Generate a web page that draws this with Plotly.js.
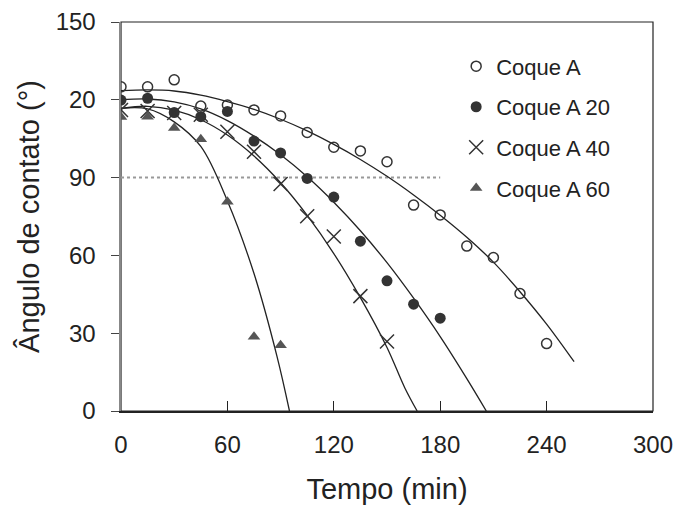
<!DOCTYPE html>
<html>
<head>
<meta charset="utf-8">
<script src="https://cdn.plot.ly/plotly-3.0.1.min.js"></script>
<style>html,body{margin:0;padding:0;background:#fff;}#chart{width:675px;height:508px;}</style>
</head>
<body>
<div id="chart"></div>
<script>
// ---- data ----
const tA   = [0,15,30,45,60,75,90,105,120,135,150,165,180,195,210,225,240];
const coqueA   = [125,125,127.7,117.6,118,116.1,113.8,107.4,101.7,100.3,96.1,79.4,75.6,63.6,59.2,45.3,26];
const tA20 = [0,15,30,45,60,75,90,105,120,135,150,165,180];
const coqueA20 = [119.9,120.6,115.1,113.5,115.5,104.1,99.5,89.7,82.5,65.5,50.2,41.2,35.8];
const tA40 = [0,15,30,45,60,75,90,105,120,135,150];
const coqueA40 = [116.1,115.7,114.9,114.2,107.7,100,87.5,75.1,67.3,44.3,26.8];
const tA60 = [0,15,30,45,60,75,90];
const coqueA60 = [113.4,113.5,109.1,104.8,80.7,28.6,25.4];

// fitted curves
const fitA_t   = [0,15,30,45,60,75,90,105,120,135,150,165,180,195,210,225,240,255.5];
const fitA_y   = [123.5,123.8,123.4,121.8,119.3,116.3,112.5,108,102.8,97,90.5,83.3,75.5,67,57.4,46,33.5,19];
const fitA20_t = [0,15,30,45,60,75,90,105,120,135,150,165,180,195,206];
const fitA20_y = [120,120.3,119.2,116.5,112,106,98.8,90.3,80.5,69.5,57.2,43.5,28.7,12.5,0];
const fitA40_t = [0,15,30,45,60,75,90,105,120,135,150,160,167];
const fitA40_y = [116.7,117.5,116,112.3,106.4,98.3,88,75.4,60.7,43.7,24.5,9,0];
const fitA60_t = [0,15,30,45,60,75,88,95];
const fitA60_y = [116.7,116.5,111.5,102,81,53,21,0];

// reference line
const refY = 90;
const refT = [0,180];

const seriesNames = ["Coque A","Coque A 20","Coque A 40","Coque A 60"];
const xTicks = [0,60,120,180,240,300];
const xTickText = ["0","60","120","180","240","300"];
const yTicks = [0,30,60,90,120,150];
const yTickText = ["0","30","60","90","20","150"];

const lineStyle = {color:'#222', width:1.3, shape:'spline', smoothing:1};
const fits = [[fitA_t,fitA_y],[fitA20_t,fitA20_y],[fitA40_t,fitA40_y],[fitA60_t,fitA60_y]];
const traces = [];
traces.push({x:refT, y:refT.map(()=>refY), mode:'lines', line:{color:'#999', width:2, dash:'dot'}, showlegend:false, hoverinfo:'skip'});
fits.forEach(f => traces.push({x:f[0], y:f[1], mode:'lines', line:lineStyle, showlegend:false, hoverinfo:'skip'}));
traces.push({x:tA, y:coqueA, name:seriesNames[0], legendgroup:'a', mode:'markers',
  marker:{symbol:'circle-open', size:10, color:'#333', line:{width:1.5, color:'#333'}}});
traces.push({x:tA20, y:coqueA20, name:seriesNames[1], legendgroup:'b', mode:'markers',
  marker:{symbol:'circle', size:11, color:'#333'}});
traces.push({x:tA40, y:coqueA40, name:seriesNames[2], legendgroup:'c', mode:'markers',
  marker:{symbol:'x-thin-open', size:14, color:'#333', line:{width:1.5, color:'#333'}}});
traces.push({x:tA60, y:coqueA60, name:seriesNames[3], legendgroup:'d', mode:'markers',
  marker:{symbol:'triangle-up', size:11, color:'#555'}});

const font = {family:'Liberation Sans, Arial, sans-serif', color:'#222'};
const layout = {
  width:675, height:508,
  margin:{l:121, r:22, t:22, b:97},
  paper_bgcolor:'#fff', plot_bgcolor:'#fff',
  font:Object.assign({size:24}, font),
  showlegend:true,
  legend:{x:0.63, y:0.94, xanchor:'left', yanchor:'top', bgcolor:'rgba(0,0,0,0)',
    font:Object.assign({size:22}, font), tracegroupgap:9, itemwidth:30},
  xaxis:{range:[0,300], tickvals:xTicks, ticktext:xTickText, ticks:'inside', ticklen:10,
    tickcolor:'#222', showgrid:false, zeroline:false, showline:true, linecolor:'#222', linewidth:1.5,
    tickfont:Object.assign({size:24}, font), ticklabelstandoff:12,
    title:{text:'Tempo (min)', font:Object.assign({size:29}, font), standoff:21}},
  yaxis:{range:[0,150], tickvals:yTicks, ticktext:yTickText, ticks:'outside', ticklen:8,
    tickcolor:'#444', showgrid:false, zeroline:false, showline:true, linecolor:'#888', linewidth:2.5,
    tickfont:Object.assign({size:24}, font), ticklabelstandoff:10,
    title:{text:'Ângulo de contato (°)', font:Object.assign({size:29}, font), standoff:8}},
  shapes:[{type:'rect', xref:'paper', yref:'paper', x0:0, x1:1, y0:0, y1:1, line:{color:'#222', width:1.2}, layer:'below'}]
};
Plotly.newPlot('chart', traces, layout, {displayModeBar:false, staticPlot:true});
</script>
</body>
</html>
